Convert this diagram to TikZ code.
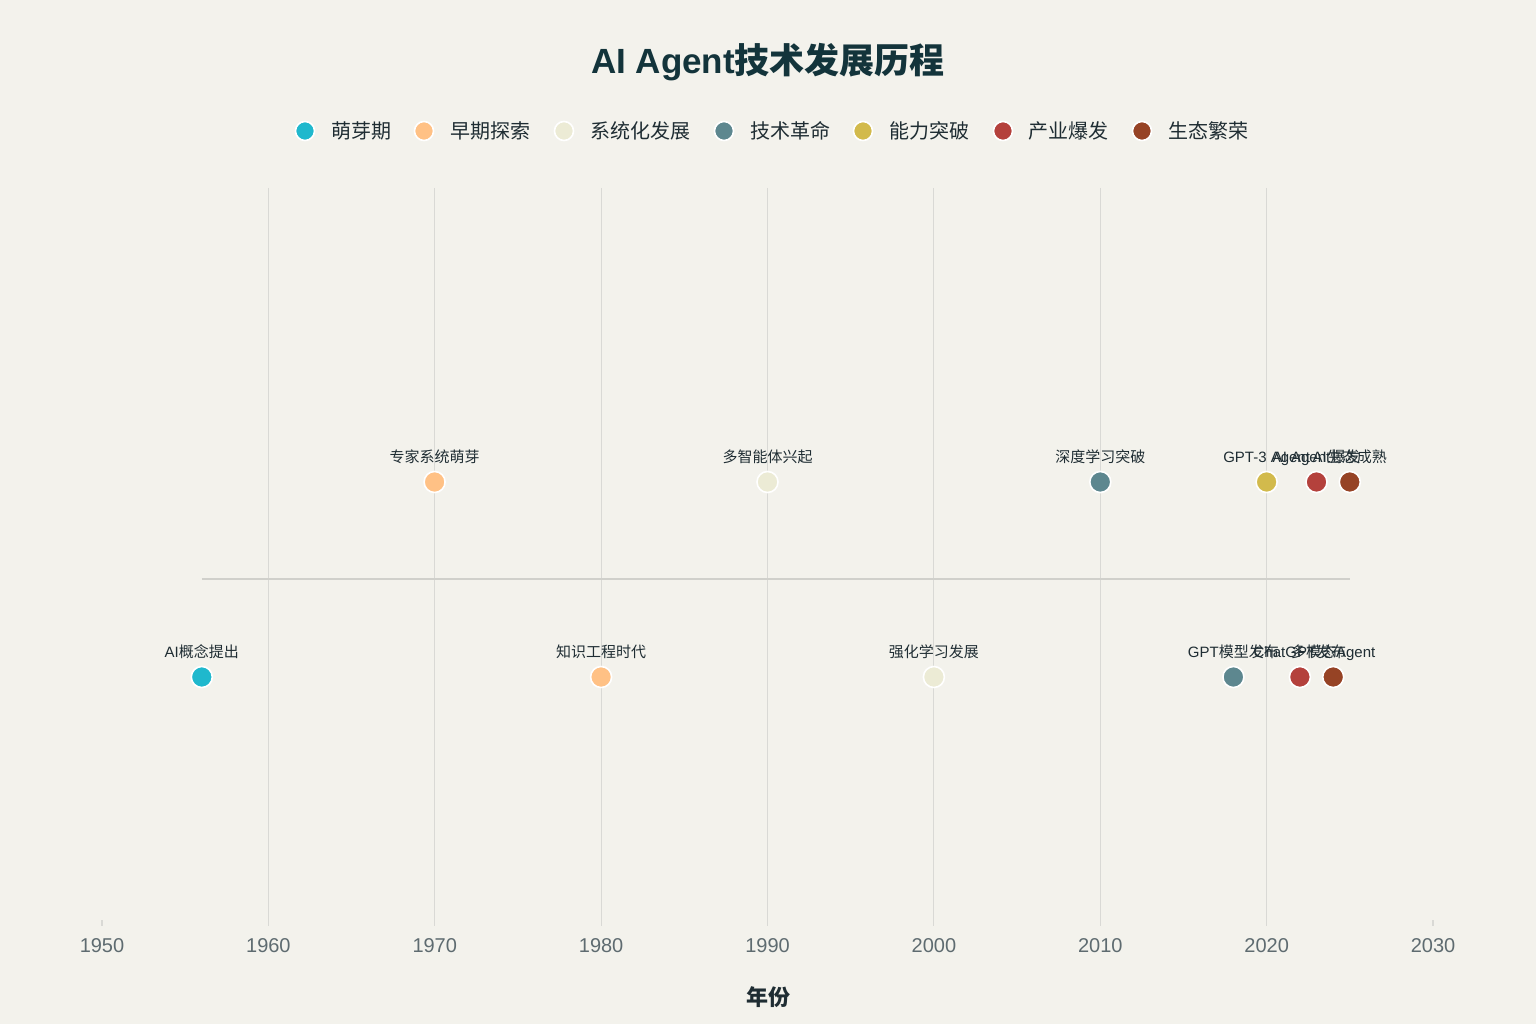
\documentclass[tikz,border=0pt]{standalone}
\usepackage{fontspec}
\setmainfont{Liberation Sans}
\newfontfamily\cjk{Noto Sans CJK SC}
\usetikzlibrary{positioning}
\definecolor{bg}{HTML}{F3F2EC}
\definecolor{ttl}{HTML}{13343B}
\definecolor{txt}{HTML}{1F2D33}
\definecolor{tick}{HTML}{5E6B70}
\definecolor{grid}{HTML}{D9D9D5}
\definecolor{mainline}{HTML}{D0D0CB}
\definecolor{cA}{HTML}{1FB8CD}
\definecolor{cB}{HTML}{FFC185}
\definecolor{cC}{HTML}{ECEBD5}
\definecolor{cD}{HTML}{5D878F}
\definecolor{cE}{HTML}{D2BA4C}
\definecolor{cF}{HTML}{B4413C}
\definecolor{cG}{HTML}{964325}
\tikzset{
  dot/.style={circle, inner sep=0pt, minimum size=21pt, draw=white, line width=1.6pt, fill=#1},
  ldot/.style={circle, inner sep=0pt, minimum size=19pt, draw=white, line width=1.6pt, fill=#1},
  evlabel/.style={inner sep=0pt, text=txt, font=\fontsize{15}{15}\selectfont, anchor=base},
  legtext/.style={inner sep=0pt, text=txt, font=\fontsize{20}{20}\selectfont\cjk, anchor=west},
  ticklabel/.style={inner sep=0pt, text=tick, font=\fontsize{20}{20}\selectfont},
  gridline/.style={draw=grid, line width=1.2pt},
}
\begin{document}
\begin{tikzpicture}[x=1pt,y=-1pt]
\fill[bg] (0,0) rectangle (1536,1024);
\useasboundingbox (0,0) rectangle (1536,1024);
% title
\node[inner sep=0pt, text=ttl, font=\fontsize{35}{35}\selectfont\bfseries] (title) at (768,62) {AI Agent{\cjk\bfseries 技术发展历程}};
% legend
\node[ldot=cA] (l1) at (305,131) {};
\node[legtext] (lt1) at (331,131) {萌芽期};
\node[ldot=cB] (l2) at (424,131) {};
\node[legtext] (lt2) at (450,131) {早期探索};
\node[ldot=cC] (l3) at (564,131) {};
\node[legtext] (lt3) at (590,131) {系统化发展};
\node[ldot=cD] (l4) at (724,131) {};
\node[legtext] (lt4) at (750,131) {技术革命};
\node[ldot=cE] (l5) at (863,131) {};
\node[legtext] (lt5) at (889,131) {能力突破};
\node[ldot=cF] (l6) at (1003,131) {};
\node[legtext] (lt6) at (1028,131) {产业爆发};
\node[ldot=cG] (l7) at (1142,131) {};
\node[legtext] (lt7) at (1168,131) {生态繁荣};
% grid and ticks
\foreach \yr in {1950,1960,...,2030} {
  \pgfmathsetmacro{\xx}{102+(\yr-1950)*16.6375}
  \node[ticklabel] (t\yr) at (\xx,946) {\yr};
  \coordinate (gb\yr) at (\xx,926);
  \coordinate (gk\yr) at (\xx,920);
  \draw[gridline] (gk\yr) -- (gb\yr);
}
\foreach \yr in {1960,1970,...,2020} {
  \pgfmathsetmacro{\xx}{102+(\yr-1950)*16.6375}
  \coordinate (gt\yr) at (\xx,188);
  \draw[gridline] (gt\yr) -- (gb\yr);
}
\node[inner sep=0pt, text=txt, font=\fontsize{22}{22}\selectfont\cjk\bfseries] (xtitle) at (768,997) {年份};
% main line
\coordinate (ls) at (201.8,579);
\coordinate (le) at (1349.8,579);
\draw[draw=mainline, line width=2.6pt] (ls) -- (le);
% events
\node[dot=cA] (e1956) at (201.8,677) {};
\node[evlabel] (n1956) at (201.8,657) {AI{\cjk 概念提出}};
\node[dot=cB] (e1970) at (434.6,482) {};
\node[evlabel] (n1970) at (434.6,462) {\cjk 专家系统萌芽};
\node[dot=cB] (e1980) at (601.1,677) {};
\node[evlabel] (n1980) at (601.1,657) {\cjk 知识工程时代};
\node[dot=cC] (e1990) at (767.5,482) {};
\node[evlabel] (n1990) at (767.5,462) {\cjk 多智能体兴起};
\node[dot=cC] (e2000) at (933.9,677) {};
\node[evlabel] (n2000) at (933.9,657) {\cjk 强化学习发展};
\node[dot=cD] (e2010) at (1100.3,482) {};
\node[evlabel] (n2010) at (1100.3,462) {\cjk 深度学习突破};
\node[dot=cD] (e2018) at (1233.4,677) {};
\node[evlabel] (n2018) at (1233.4,657) {GPT{\cjk 模型发布}};
\node[dot=cE] (e2020) at (1266.6,482) {};
\node[evlabel] (n2020) at (1266.6,462) {GPT-3 Agent};
\node[dot=cF] (e2022) at (1299.9,677) {};
\node[evlabel] (n2022) at (1299.9,657) {ChatGPT{\cjk 发布}};
\node[dot=cF] (e2023) at (1316.5,482) {};
\node[evlabel] (n2023) at (1316.5,462) {AI Agent{\cjk 爆发}};
\node[dot=cG] (e2024) at (1333.2,677) {};
\node[evlabel] (n2024) at (1333.2,657) {{\cjk 多模态}Agent};
\node[dot=cG] (e2025) at (1349.8,482) {};
\node[evlabel] (n2025) at (1349.8,462) {AI{\cjk 生态成熟}};
\end{tikzpicture}
\end{document}
